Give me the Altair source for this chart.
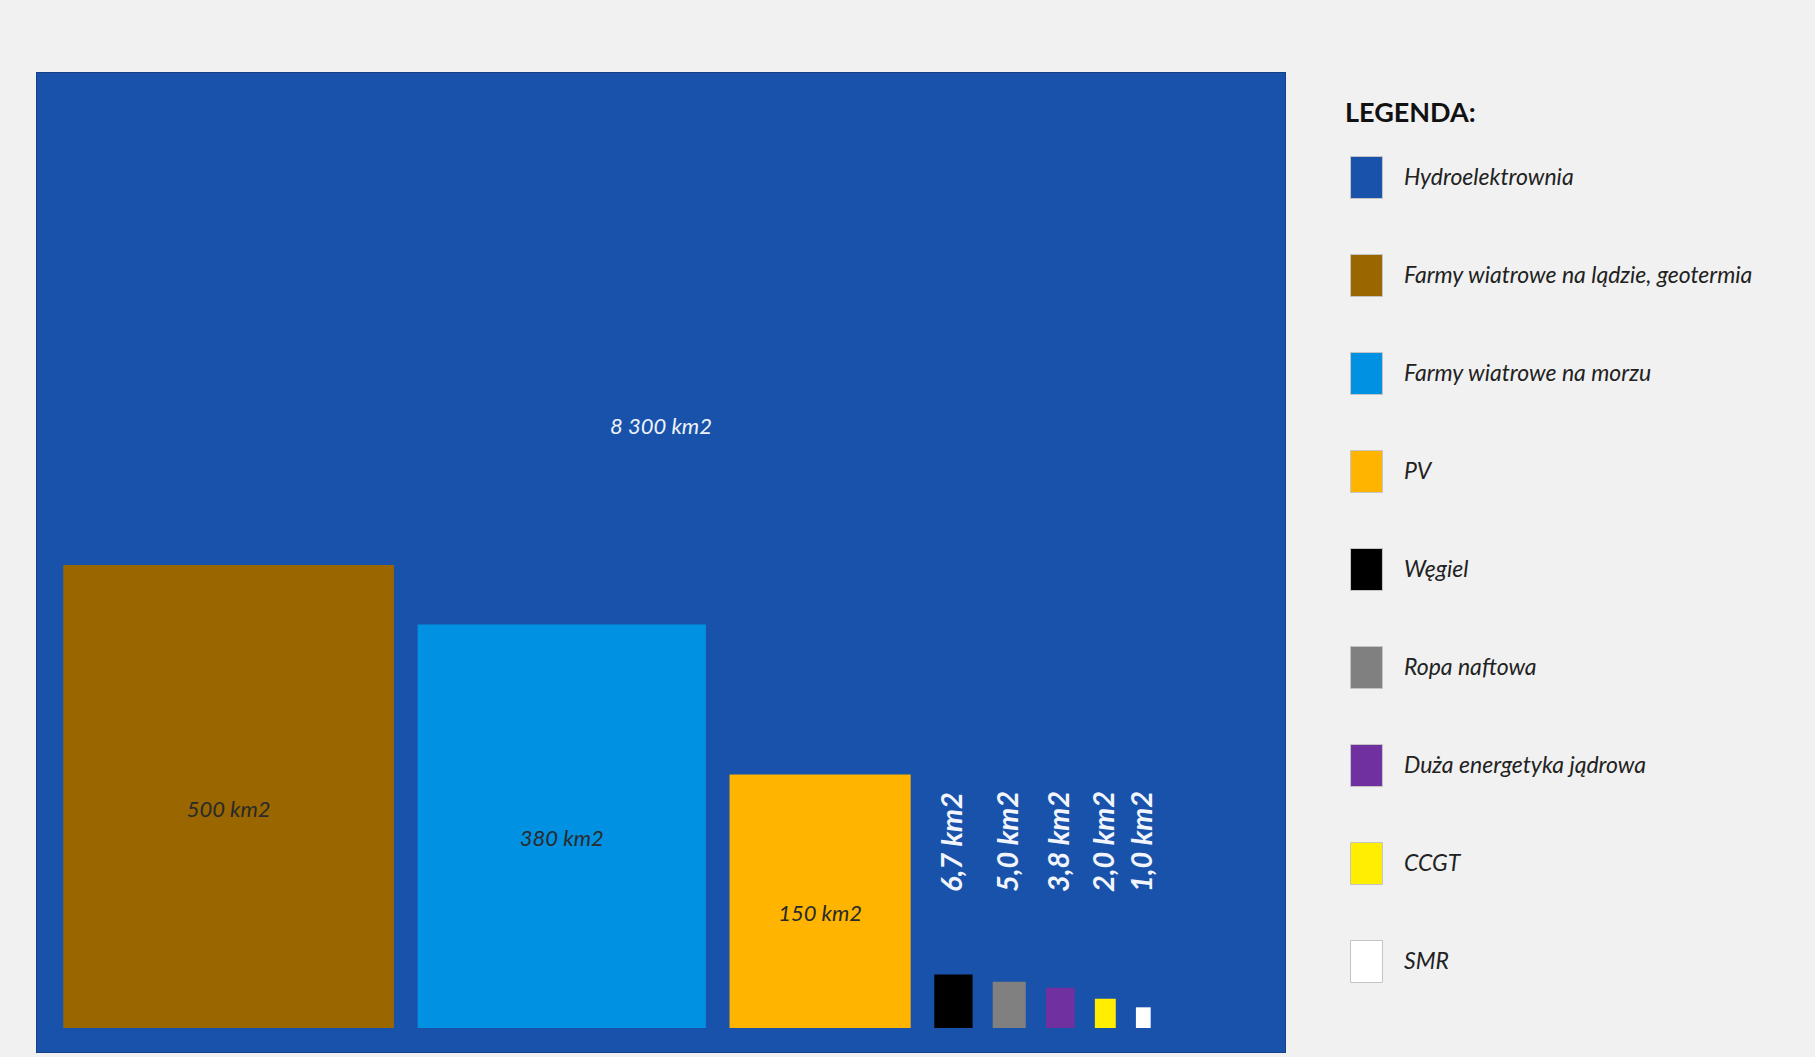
import math
import altair as alt
import pandas as pd

# ---------------- data ----------------
categories = [
    "Hydroelektrownia",
    "Farmy wiatrowe na lądzie, geotermia",
    "Farmy wiatrowe na morzu",
    "PV",
    "Węgiel",
    "Ropa naftowa",
    "Duża energetyka jądrowa",
    "CCGT",
    "SMR",
]
areas_km2 = [8300, 500, 380, 150, 6.7, 5.0, 3.8, 2.0, 1.0]
labels = ["8 300 km2", "500 km2", "380 km2", "150 km2",
          "6,7 km2", "5,0 km2", "3,8 km2", "2,0 km2", "1,0 km2"]
colors = ["#1952aa", "#996600", "#0091e2", "#ffb400",
          "#000000", "#808080", "#7030a0", "#ffee00", "#ffffff"]

# ---------------- layout (km units, drawn through scales) ----------------
PLOT_W, PLOT_H = 1248, 979
PX_PER_KM = 17.5
X_MAX = PLOT_W / PX_PER_KM
Y_MAX = PLOT_H / PX_PER_KM
ASPECT = 1.4      # height / width of each square
GAP = 1.35        # km between large rectangles
GAP_SMALL = 1.15  # km between small rectangles
BASE = 1.37       # km from bottom
LEFT = 1.5        # km from left
BG_LABEL_FRAC = 0.638
SMALL_LABEL_LIFT = 7.77

rows = [dict(cat=categories[0], label=labels[0], x0=0.0, x1=X_MAX, y0=0.0, y1=Y_MAX,
             xc=X_MAX / 2, yc=Y_MAX * BG_LABEL_FRAC, kind="bg")]
cursor = LEFT
for c, v, l in zip(categories[1:], areas_km2[1:], labels[1:]):
    w = math.sqrt(v / ASPECT)
    h = ASPECT * w
    kind = "big" if v >= 100 else "small"
    yc = BASE + h / 2 if kind == "big" else BASE + SMALL_LABEL_LIFT
    rows.append(dict(cat=c, label=l, x0=cursor, x1=cursor + w, y0=BASE, y1=BASE + h,
                     xc=cursor + w / 2, yc=yc, kind=kind))
    cursor += w + (GAP if v >= 100 else GAP_SMALL)
df = pd.DataFrame(rows)

xscale = alt.Scale(domain=[0, X_MAX], nice=False, zero=False)
yscale = alt.Scale(domain=[0, Y_MAX], nice=False, zero=False)

base = alt.Chart(df)

rects = base.mark_rect(strokeWidth=0).encode(
    x=alt.X("x0:Q", scale=xscale, axis=None),
    x2="x1:Q",
    y=alt.Y("y0:Q", scale=yscale, axis=None),
    y2="y1:Q",
    color=alt.Color(
        "cat:N",
        sort=categories,
        scale=alt.Scale(domain=categories, range=colors),
        legend=alt.Legend(
            title="LEGENDA:",
            orient="none",
            legendX=1308,
            legendY=28,
            direction="vertical",
            symbolType="M-0.76,-1H0.76V1H-0.76Z",
            symbolSize=1764,
            symbolStrokeColor="#c4c4c4",
            symbolStrokeWidth=1,
            symbolOpacity=1,
            labelFont="Lato",
            labelFontSize=23,
            labelFontStyle="italic",
            labelColor="#222222",
            labelOffset=16,
            labelLimit=600,
            rowPadding=51,
            titleFont="Lato",
            titleFontSize=27,
            titleFontWeight="bold",
            titleColor="#111111",
            titlePadding=28,
            padding=0,
        ),
    ),
    order=alt.Order("y1:Q", sort="descending"),
)

bg_label = base.transform_filter(alt.datum.kind == "bg").mark_text(
    font="Lato", fontSize=22, fontStyle="italic", color="#eef2fb"
).encode(
    x=alt.X("xc:Q", scale=xscale, axis=None),
    y=alt.Y("yc:Q", scale=yscale, axis=None),
    text="label:N",
)

big_labels = base.transform_filter(alt.datum.kind == "big").mark_text(
    font="Lato", fontSize=22, fontStyle="italic", color="#2a2a2a", dy=13
).encode(
    x=alt.X("xc:Q", scale=xscale, axis=None),
    y=alt.Y("yc:Q", scale=yscale, axis=None),
    text="label:N",
)

small_labels = base.transform_filter(alt.datum.kind == "small").mark_text(
    font="Lato", fontSize=29, fontStyle="italic", fontWeight="bold",
    color="#f2f5fd", angle=270, align="left", baseline="middle"
).encode(
    x=alt.X("xc:Q", scale=xscale, axis=None),
    y=alt.Y("yc:Q", scale=yscale, axis=None),
    text="label:N",
)

chart = alt.layer(rects, bg_label, big_labels, small_labels).properties(
    width=PLOT_W,
    height=PLOT_H,
    background="#f1f1f1",
    autosize=alt.AutoSizeParams(type="none"),
    padding={"left": 37, "top": 73, "right": 530, "bottom": 5},
).configure_view(stroke="#163f85", strokeWidth=2)

chart.save("out.html", embed_options={"renderer": "svg", "actions": False})
